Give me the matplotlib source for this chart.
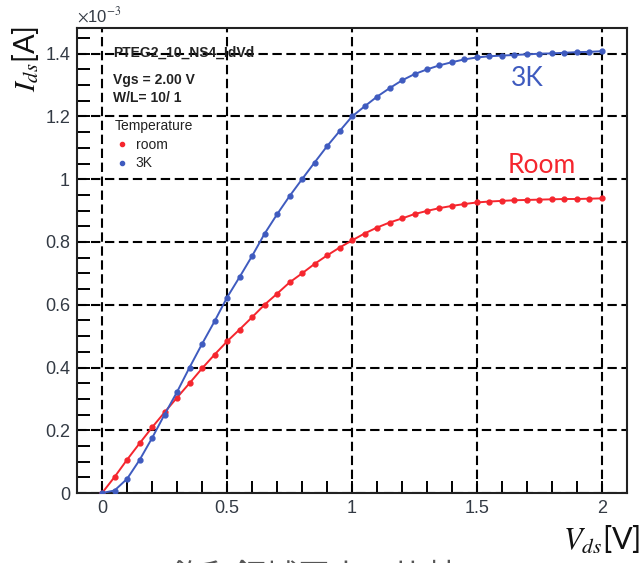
import numpy as np
import matplotlib
matplotlib.use('Agg')
import matplotlib.pyplot as plt
from matplotlib.lines import Line2D
from matplotlib.ticker import MultipleLocator, FuncFormatter

plt.rcParams['font.family'] = ['Liberation Sans', 'DejaVu Sans']
plt.rcParams['mathtext.fontset'] = 'stix'

# Vds sweep [V]
vds = [0.00, 0.05, 0.10, 0.15, 0.20, 0.25, 0.30, 0.35, 0.40, 0.45,
       0.50, 0.55, 0.60, 0.65, 0.70, 0.75, 0.80, 0.85, 0.90, 0.95,
       1.00, 1.05, 1.10, 1.15, 1.20, 1.25, 1.30, 1.35, 1.40, 1.45,
       1.50, 1.55, 1.60, 1.65, 1.70, 1.75, 1.80, 1.85, 1.90, 1.95, 2.00]

# Ids [x1e-3 A]
ids_room = [0.000, 0.051, 0.106, 0.158, 0.209, 0.257, 0.304, 0.350, 0.397, 0.441,
            0.483, 0.521, 0.560, 0.600, 0.635, 0.671, 0.700, 0.730, 0.757, 0.782,
            0.805, 0.827, 0.846, 0.862, 0.875, 0.889, 0.899, 0.908, 0.915, 0.921,
            0.926, 0.929, 0.931, 0.933, 0.934, 0.935, 0.936, 0.937, 0.937, 0.938, 0.939]
ids_3k = [0.000, 0.008, 0.045, 0.105, 0.175, 0.250, 0.322, 0.400, 0.475, 0.547,
          0.623, 0.688, 0.755, 0.826, 0.888, 0.946, 1.000, 1.053, 1.105, 1.153,
          1.200, 1.232, 1.263, 1.290, 1.315, 1.335, 1.350, 1.363, 1.373, 1.382,
          1.388, 1.392, 1.394, 1.396, 1.398, 1.400, 1.401, 1.403, 1.405, 1.406, 1.408]

red = '#f5262e'
blue = '#3f5bbf'
tick_col = '#333a44'

fig = plt.figure(figsize=(6.42, 5.63), dpi=100)
ax = fig.add_axes([0.12, 0.1243, 0.8566, 0.826])

ax.plot(vds, ids_room, color=red, lw=1.4, marker='o', ms=3.5, zorder=4)
ax.plot(vds, ids_3k, color=blue, lw=1.4, marker='o', ms=3.5, zorder=4)

ax.set_xlim(-0.1, 2.1)
ax.set_ylim(0, 1.482)
ax.xaxis.set_major_locator(MultipleLocator(0.5))
ax.xaxis.set_minor_locator(MultipleLocator(0.1))
ax.yaxis.set_major_locator(MultipleLocator(0.2))
ax.yaxis.set_minor_locator(MultipleLocator(0.05))
fmt = FuncFormatter(lambda v, p: '%g' % round(v, 2))
ax.xaxis.set_major_formatter(fmt)
ax.yaxis.set_major_formatter(fmt)
ax.tick_params(which='both', direction='in', top=False, right=False,
               labelsize=13, labelcolor=tick_col, width=1.4)
ax.tick_params(which='major', length=9, pad=5)
ax.tick_params(which='minor', length=9)
ax.grid(True, which='major', color='black', lw=1.5, ls=(0, (4.5, 2.2)))
for s in ax.spines.values():
    s.set_linewidth(1.5)
    s.set_color('#222222')

# ROOT style info box
ax.text(0.065, 0.946, 'PTEG2_10_NS4_IdVd', transform=ax.transAxes,
        fontsize=10, fontweight='bold', va='center', ha='left', color='#222')
ax.text(0.065, 0.888, 'Vgs = 2.00 V', transform=ax.transAxes,
        fontsize=10, fontweight='bold', va='center', ha='left', color='#222')
ax.text(0.065, 0.849, 'W/L= 10/ 1', transform=ax.transAxes,
        fontsize=10, fontweight='bold', va='center', ha='left', color='#222')
handles = [Line2D([], [], color=red, marker='o', ls='none', ms=3),
           Line2D([], [], color=blue, marker='o', ls='none', ms=3)]
leg = ax.legend(handles, ['room', '3K'], title='Temperature', loc='upper left',
                bbox_to_anchor=(0.069, 0.805), frameon=False, fontsize=10,
                title_fontsize=10, borderpad=0, borderaxespad=0,
                handlelength=1.0, handletextpad=0.5, labelspacing=0.35,
                alignment='left')
for t in leg.get_texts():
    t.set_color('#222')
leg.get_title().set_color('#222')

ax.text(0, 1.006, r'$\times$10$^{-3}$', transform=ax.transAxes, fontsize=12,
        color=tick_col, ha='left', va='bottom')

# curve labels
ax.text(1.70, 1.32, '3K', color=blue, fontsize=19, family='Lato', ha='center', va='center')
ax.text(1.76, 1.045, 'Room', color=red, fontsize=19, family='Lato', ha='center', va='center')

fig.text(0.04, 0.955, r'$I_{ds}$[A]', rotation=90, fontsize=21, family='Lato',
         ha='center', va='top', color='#111')
fig.text(0.998, 0.012, r'$V_{ds}$[V]', fontsize=22, family='Lato',
         ha='right', va='bottom', color='#111')

fig.text(0.489, 0.002, '飽和領域同士の比較', fontsize=23, color='#555555',
         family=['Noto Sans CJK JP', 'DejaVu Sans'], ha='center', va='top')

fig.savefig('out.png', dpi=100)
